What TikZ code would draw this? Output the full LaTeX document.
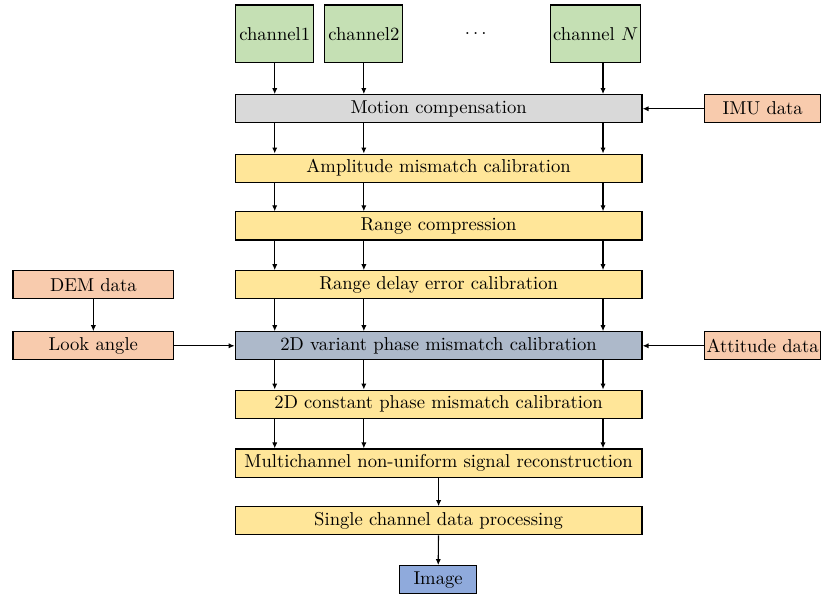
\documentclass[tikz,border=0pt]{standalone}
\usepackage{xcolor}
\usepackage{tikz}
\usetikzlibrary{positioning,arrows.meta,calc}

\definecolor{chgreen}{RGB}{197,224,180}
\definecolor{stepgray}{RGB}{217,217,217}
\definecolor{stepyellow}{RGB}{255,230,153}
\definecolor{dataorange}{RGB}{248,203,173}
\definecolor{stepblue}{RGB}{173,185,202}
\definecolor{imgblue}{RGB}{143,170,220}

\begin{document}
\begin{tikzpicture}[
  every node/.style={font=\normalsize},
  chan/.style={draw,semithick,fill=chgreen,minimum height=10.9mm,inner sep=1pt},
  proc/.style={draw,semithick,minimum width=76.7mm,minimum height=5.3mm,inner sep=1pt},
  aux/.style={draw,semithick,fill=dataorange,minimum height=5.3mm,inner sep=1pt},
  arrow/.style={-{Latex[length=3.2pt,width=2.8pt]},semithick}
]
  \useasboundingbox (0,0) rectangle (15.48,-11.23);
  % input channels
  \node[chan,minimum width=14.7mm] (ch1) at (5.18,-0.64) {channel1};
  \node[chan,minimum width=14.7mm] (ch2) at (6.86,-0.64) {channel2};
  \node (dots) at (8.97,-0.64) {$\ldots$};
  \node[chan,minimum width=17mm]   (chN) at (11.23,-0.64) {channel $N$};
  \coordinate (colN) at (11.37,-0.64);
  % processing chain
  \node[proc,fill=stepgray]   (mc)     at (8.27,-2.05) {Motion compensation};
  \node[proc,fill=stepyellow] (amp)    at (8.27,-3.17) {Amplitude mismatch calibration};
  \node[proc,fill=stepyellow] (rc)     at (8.27,-4.26) {Range compression};
  \node[proc,fill=stepyellow] (rd)     at (8.27,-5.37) {Range delay error calibration};
  \node[proc,fill=stepblue]   (var)    at (8.27,-6.52) {2D variant phase mismatch calibration};
  \node[proc,fill=stepyellow] (const)  at (8.27,-7.62) {2D constant phase mismatch calibration};
  \node[proc,fill=stepyellow] (multi)  at (8.27,-8.73) {Multichannel non-uniform signal reconstruction};
  \node[proc,fill=stepyellow] (single) at (8.27,-9.82) {Single channel data processing};
  \node[draw,semithick,fill=imgblue,minimum width=14.5mm,minimum height=5.3mm,inner sep=1pt] (img) at (8.26,-10.93) {Image};
  % auxiliary data
  \node[aux,minimum width=21.9mm] (imu)  at (14.38,-2.05) {IMU data};
  \node[aux,minimum width=21.9mm] (att)  at (14.38,-6.52) {Attitude data};
  \node[aux,minimum width=30.3mm] (dem)  at (1.76,-5.37) {DEM data};
  \node[aux,minimum width=30.3mm] (look) at (1.76,-6.52) {Look angle};
  % connectors
  \draw[arrow] (ch1.south) -- (ch1 |- mc.north);
  \draw[arrow] (ch2.south) -- (ch2 |- mc.north);
  \draw[arrow] (colN |- chN.south) -- (colN |- mc.north);
  \foreach \a/\b in {mc/amp,amp/rc,rc/rd,rd/var,var/const,const/multi}
    \foreach \c in {ch1,ch2,colN} \draw[arrow] (\c |- \a.south) -- (\c |- \b.north);
  \draw[arrow] (multi) -- (single);
  \draw[arrow] (single) -- (img);
  \draw[arrow] (imu) -- (mc);
  \draw[arrow] (att) -- (var);
  \draw[arrow] (dem) -- (look);
  \draw[arrow] (look) -- (var);
\end{tikzpicture}
\end{document}
